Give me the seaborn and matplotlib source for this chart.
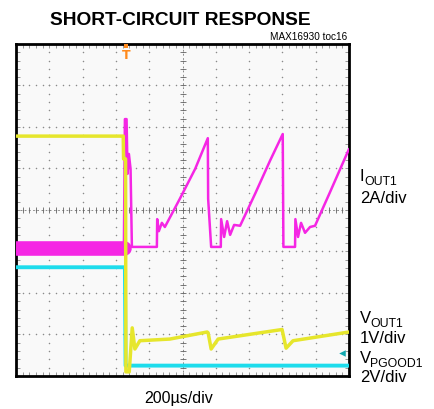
"""
Short-circuit response scope capture (MAX16930 toc16), redrawn with seaborn.
Traces are in scope divisions: 10 horizontal (200us/div), 8 vertical.
"""

import matplotlib
matplotlib.use("Agg")
import matplotlib.pyplot as plt
import numpy as np
import pandas as pd
import seaborn as sns

# VOUT1 (yellow), divisions
vout_x = [0, 3.22, 3.23, 3.29, 3.30, 3.40, 3.49, 3.57, 3.72, 4.62, 5.74, 5.77, 5.86, 6.07,
          7.99, 8.11, 8.32, 10.0]
vout_y = [5.78, 5.78, 5.23, 5.23, 0.10, 0.10, 1.16, 0.65, 0.85, 0.89, 1.06, 1.04, 0.65, 0.89,
          1.12, 0.67, 0.85, 1.06]

# VPGOOD1 (cyan)
pgood_x = [0, 3.27, 3.29, 10.0]
pgood_y = [2.62, 2.62, 0.25, 0.25]

# IOUT1 (magenta)
iout_x = [0, 3.24, 3.27, 3.32, 3.35, 3.39, 3.44, 3.48, 4.23, 4.24, 4.29, 4.38, 4.47, 4.92,
          5.38, 5.76, 5.77, 5.86, 6.15, 6.16, 6.25, 6.34, 6.43, 6.55, 6.73, 7.18, 7.63, 8.01,
          8.03, 8.38, 8.39, 8.47, 8.56, 8.68, 8.83, 8.98, 9.43, 10.0]
iout_y = [3.08, 3.08, 6.19, 6.19, 4.87, 5.35, 4.99, 3.11, 3.11, 3.78, 3.49, 3.69, 3.59, 4.27,
          4.99, 5.73, 4.27, 3.11, 3.11, 3.78, 3.35, 3.73, 3.40, 3.64, 3.62, 4.39, 5.19, 5.83,
          3.11, 3.11, 3.78, 3.35, 3.69, 3.45, 3.59, 3.62, 4.43, 5.47]
iout_quiet_end = 3.24  # noisy pre-fault load current band

YELLOW = "#e6e62c"
MAGENTA = "#f526e4"
CYAN = "#1ddcec"

sns.set_theme(style="white")
plt.rcParams["font.family"] = ["Liberation Sans", "DejaVu Sans"]
plt.rcParams["text.color"] = "black"

fig = plt.figure(figsize=(4.35, 4.10), dpi=100)
ax = fig.add_axes([0.0368, 0.0805, 0.7655, 0.8098])
ax.set_facecolor("#f9f9f9")
ax.set_xlim(0, 10)
ax.set_ylim(0, 8)
ax.set_xticks([])
ax.set_yticks([])
for s in ax.spines.values():
    s.set_color("black")
    s.set_linewidth(2.0)

# graticule: dotted major lines, with minor ticks on the centre cross
minor_x = np.arange(0, 10.01, 0.2)
minor_y = np.arange(0, 8.01, 0.2)
for gx in range(1, 10):
    ax.scatter(np.full_like(minor_y, gx), minor_y, s=1.2, color="#8a8a8a", lw=0, zorder=1)
for gy in range(1, 8):
    ax.scatter(minor_x, np.full_like(minor_x, gy), s=1.2, color="#8a8a8a", lw=0, zorder=1)
ax.axhline(4, color="#777777", lw=0.6, ls=(0, (2, 3)), zorder=1)
ax.axvline(5, color="#777777", lw=0.6, ls=(0, (2, 3)), zorder=1)
ax.scatter(minor_x, np.full_like(minor_x, 4), marker="|", s=14, color="#666666", lw=0.6, zorder=1)
ax.scatter(np.full_like(minor_y, 5), minor_y, marker="_", s=14, color="#666666", lw=0.6, zorder=1)
for edge in (0.05, 9.95):
    ax.scatter(np.full_like(minor_y, edge), minor_y, marker="_", s=6, color="#888888", lw=0.6, zorder=1)
for edge in (0.06, 7.94):
    ax.scatter(minor_x, np.full_like(minor_x, edge), marker="|", s=6, color="#888888", lw=0.6, zorder=1)

vout = pd.DataFrame({"t": vout_x, "v": vout_y})
pgood = pd.DataFrame({"t": pgood_x, "v": pgood_y})
iout = pd.DataFrame({"t": iout_x, "v": iout_y})

sns.lineplot(data=pgood, x="t", y="v", sort=False, estimator=None, color=CYAN, lw=2.8, ax=ax, zorder=3)
sns.lineplot(data=iout, x="t", y="v", sort=False, estimator=None, color=MAGENTA, lw=1.8, ax=ax, zorder=4)
quiet = iout[iout["t"] <= iout_quiet_end]
sns.lineplot(data=quiet, x="t", y="v", sort=False, estimator=None, color=MAGENTA, lw=10.5, ax=ax, zorder=4)
sns.lineplot(data=vout, x="t", y="v", sort=False, estimator=None, color=YELLOW, lw=2.5, ax=ax, zorder=5)
ax.set_xlabel("")
ax.set_ylabel("")

# trigger and ground markers
ax.text(3.30, 7.74, "T", color="#ff8a1c", fontsize=9, fontweight="bold", ha="center", va="center",
        family="DejaVu Sans", zorder=6)
ax.scatter([3.30], [7.96], marker="s", s=8, color="#ff8a1c", lw=0, zorder=6)
ax.scatter([9.78], [0.55], marker="<", s=22, color="#12a8b0", lw=0, zorder=6)

fig.text(0.414, 0.950, "SHORT-CIRCUIT RESPONSE", fontsize=13.8, fontweight="bold",
         ha="center", va="center")
fig.text(0.798, 0.909, "MAX16930 toc16", fontsize=7.2, ha="right", va="center")

W, H = 435, 410
lx = 360
fs = 12


def channel_label(letter, sub, y_px, letter_w):
    # letter then a nearly full-size, slightly lowered subscript, as on the scope print
    fig.text(lx / W, 1 - y_px / H, letter, fontsize=fs, ha="left", va="baseline")
    fig.text((lx + letter_w) / W, 1 - (y_px + 4) / H, sub, fontsize=8.8, ha="left", va="baseline")


channel_label("I", "OUT1", 181, 4.5)
fig.text(lx / W, 1 - 203 / H, "2A/div", fontsize=fs, ha="left", va="baseline")
channel_label("V", "OUT1", 323, 10)
fig.text(lx / W, 1 - 343 / H, "1V/div", fontsize=fs, ha="left", va="baseline")
channel_label("V", "PGOOD1", 363, 10)
fig.text(lx / W, 1 - 382 / H, "2V/div", fontsize=fs, ha="left", va="baseline")
fig.text(0.41, 0.029, "200µs/div", fontsize=11.5, ha="center", va="center")

fig.savefig("out.png", dpi=100)
